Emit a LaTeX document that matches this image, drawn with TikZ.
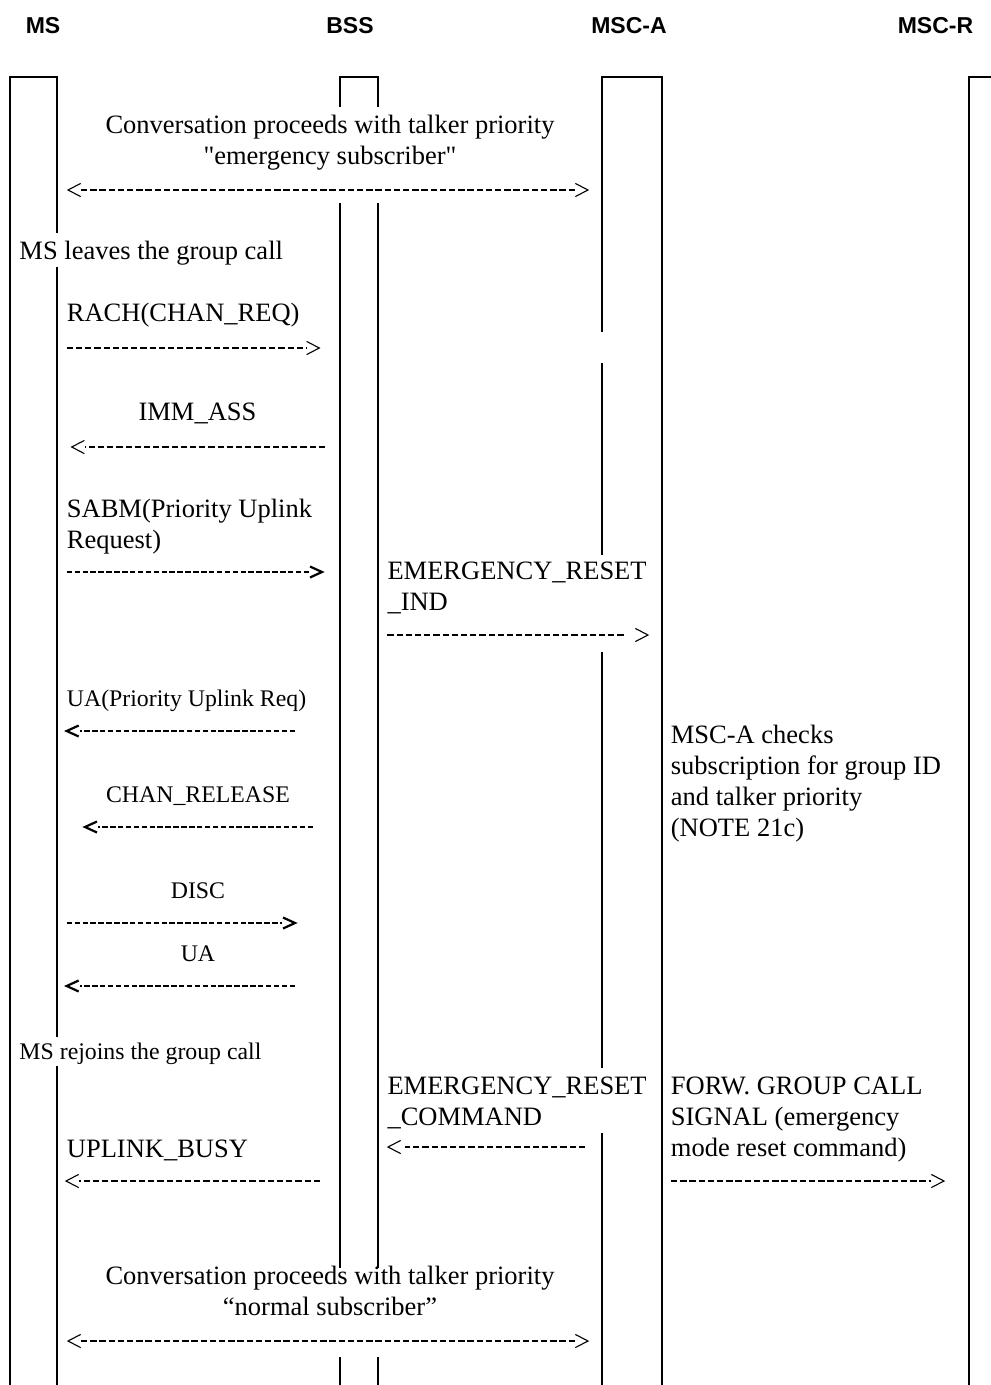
\documentclass[tikz,border=0pt]{standalone}
\usepackage{fontspec}
\setmainfont{Liberation Serif}
\newfontfamily\hdrfont{Liberation Sans}
\tikzset{
  life/.style={line width=2pt},
  big/.style={font=\fontsize{26.5}{31}\selectfont, inner sep=0pt},
  small/.style={font=\fontsize{23.8}{28}\selectfont, inner sep=0pt},
  hdr/.style={font=\hdrfont\bfseries\fontsize{23}{27}\selectfont, inner sep=0pt},
  thinmsg/.style={line width=1.2pt, dash pattern=on 6.3pt off 2.9pt},
  boldmsg/.style={line width=2pt, dash pattern=on 5.5pt off 2.4pt},
  rchev/.pic={\draw[line width=1.1pt] (-12.7,-6.6) -- (0,0) -- (-12.7,6.6);},
  lchev/.pic={\draw[line width=1.1pt] (12.7,-6.6) -- (0,0) -- (12.7,6.6);},
  rbchev/.pic={\draw[line width=2.2pt] (-12,-5.5) -- (0,0) -- (-12,5.5);},
  lbchev/.pic={\draw[line width=2.2pt] (12,-5.5) -- (0,0) -- (12,5.5);}
}
\begin{document}
\begin{tikzpicture}[x=1pt,y=-1pt]
\useasboundingbox (0,0) rectangle (991,1385);
% headers
\node[hdr, anchor=base] (hMS) at (43,33) {MS};
\node[hdr, anchor=base] (hBSS) at (350,33) {BSS};
\node[hdr, anchor=base] (hMSCA) at (629,33) {MSC-A};
\node[hdr, anchor=base] (hMSCR) at (935.5,33) {MSC-R};
% lifelines
\draw[life] (10,1386) -- (10,77) -- (57,77) -- (57,233);
\draw[life] (57,267) -- (57,1037);
\draw[life] (57,1066) -- (57,1386);
\draw[life] (340,107) -- (340,77) -- (378,77) -- (378,107);
\draw[life] (340,203) -- (340,1268);
\draw[life] (378,203) -- (378,1268);
\draw[life] (340,1357) -- (340,1386);
\draw[life] (378,1357) -- (378,1386);
\draw[life] (602,332) -- (602,77) -- (662,77) -- (662,1386);
\draw[life] (602,363) -- (602,555);
\draw[life] (602,652) -- (602,1068);
\draw[life] (602,1133) -- (602,1386);
\draw[life] (969,1386) -- (969,77) -- (992,77);
% texts (multi-line nodes: base = last line)
\node[big, anchor=base, align=center] (conv1) at (330,164) {Conversation proceeds with talker priority\\\textquotedbl emergency subscriber\textquotedbl};
\node[big, anchor=base west] (leave) at (19.3,259) {MS leaves the group call};
\node[big, anchor=base west] (rach) at (66.7,321) {RACH(CHAN\_REQ)};
\node[big, anchor=base] (imm) at (197.5,420) {IMM\_ASS};
\node[big, anchor=base west, align=left] (sabm) at (66.7,548) {SABM(Priority Uplink\\Request)};
\node[big, anchor=base west, align=left] (erind) at (387.3,610) {EMERGENCY\_RESET\\\_IND};
\node[small, anchor=base west] (uapr) at (66.7,706) {UA(Priority Uplink Req)};
\node[big, anchor=base west, align=left] (check) at (670.7,836) {MSC-A checks\\subscription for group ID\\and talker priority\\(NOTE 21c)};
\node[small, anchor=base] (chrel) at (198,802.7) {CHAN\_RELEASE};
\node[small, anchor=base] (disc) at (198,898) {DISC};
\node[small, anchor=base] (ua) at (198,961.5) {UA};
\node[small, anchor=base west] (rejoin) at (19.3,1059) {MS rejoins the group call};
\node[big, anchor=base west, align=left] (ercmd) at (387.3,1125) {EMERGENCY\_RESET\\\_COMMAND};
\node[big, anchor=base west, align=left] (forw) at (670.7,1156) {FORW. GROUP CALL\\SIGNAL (emergency\\mode reset command)};
\node[big, anchor=base west] (busy) at (66.7,1157) {UPLINK\_BUSY};
\node[big, anchor=base, align=center] (conv2) at (330,1315) {Conversation proceeds with talker priority\\“normal subscriber”};
% arrow end points
\coordinate (c1l) at (68,190);     \coordinate (c1r) at (588,190);
\coordinate (rachS) at (66.7,348); \coordinate (rachE) at (319.3,348);
\coordinate (immS) at (325,447);   \coordinate (immE) at (71.7,447);
\coordinate (sabmS) at (66.7,572); \coordinate (sabmE) at (322,572);
\coordinate (indS) at (387.3,635); \coordinate (indE) at (648,635);
\coordinate (uaprS) at (295,731);  \coordinate (uaprE) at (66.7,731);
\coordinate (chrelS) at (313,827); \coordinate (chrelE) at (85,827);
\coordinate (discS) at (66.7,923); \coordinate (discE) at (295,923);
\coordinate (uaS) at (295,986);    \coordinate (uaE) at (66.7,986);
\coordinate (cmdS) at (585,1147);  \coordinate (cmdE) at (388,1147);
\coordinate (forwS) at (671,1181); \coordinate (forwE) at (944,1181);
\coordinate (busyS) at (320,1181); \coordinate (busyE) at (66,1181);
\coordinate (c2l) at (68,1341);    \coordinate (c2r) at (588,1341);
% arrows
\draw[thinmsg, shorten <=13pt, shorten >=13pt] (c1l) -- (c1r);
\pic at (c1l) {lchev}; \pic at (c1r) {rchev};
\draw[thinmsg, shorten >=13pt] (rachS) -- (rachE); \pic at (rachE) {rchev};
\draw[thinmsg, shorten >=13pt] (immS) -- (immE); \pic at (immE) {lchev};
\draw[boldmsg, shorten >=13pt] (sabmS) -- (sabmE); \pic at (sabmE) {rbchev};
\draw[thinmsg, shorten >=22pt] (indS) -- (indE); \pic at (indE) {rchev};
\draw[boldmsg, shorten >=13pt] (uaprS) -- (uaprE); \pic at (uaprE) {lbchev};
\draw[boldmsg, shorten >=13pt] (chrelS) -- (chrelE); \pic at (chrelE) {lbchev};
\draw[boldmsg, shorten >=13pt] (discS) -- (discE); \pic at (discE) {rbchev};
\draw[boldmsg, shorten >=13pt] (uaS) -- (uaE); \pic at (uaE) {lbchev};
\draw[thinmsg, shorten >=17pt] (cmdS) -- (cmdE); \pic at (cmdE) {lchev};
\draw[thinmsg, shorten >=13pt] (forwS) -- (forwE); \pic at (forwE) {rchev};
\draw[thinmsg, shorten >=13pt] (busyS) -- (busyE); \pic at (busyE) {lchev};
\draw[thinmsg, shorten <=13pt, shorten >=13pt] (c2l) -- (c2r);
\pic at (c2l) {lchev}; \pic at (c2r) {rchev};
\end{tikzpicture}
\end{document}
